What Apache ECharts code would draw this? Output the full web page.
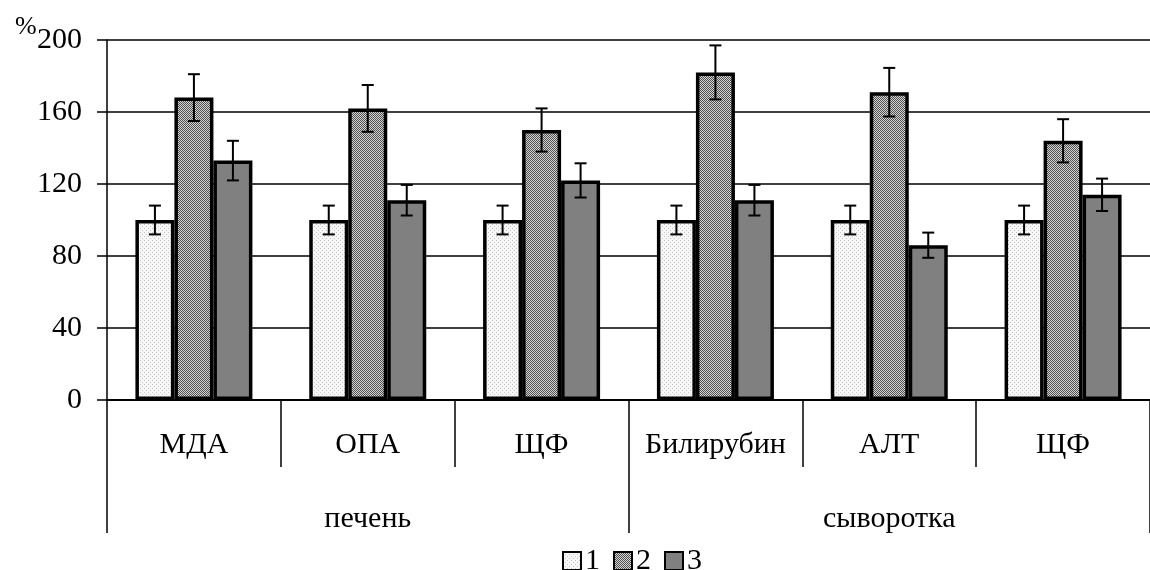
<!DOCTYPE html>
<html>
<head>
<meta charset="utf-8">
<script src="https://cdn.jsdelivr.net/npm/echarts@6/dist/echarts.min.js"></script>
<style>
html,body{margin:0;padding:0;background:#fff;}
#c{width:1150px;height:570px;}
</style>
</head>
<body>
<div id="c"></div>
<script>
// ---- data ----
var categories = ['МДА', 'ОПА', 'ЩФ', 'Билирубин', 'АЛТ', 'ЩФ'];
var groups = ['печень', 'сыворотка'];
var seriesNames = ['1', '2', '3'];
var values1 = [100, 100, 100, 100, 100, 100];
var errors1 = [8, 8, 8, 8, 8, 8];
var values2 = [168, 162, 150, 182, 171, 144];
var errors2 = [13, 13, 12, 15, 13.5, 12];
var values3 = [133, 111, 122, 111, 86, 114];
var errors3 = [11, 8.5, 9.5, 8.5, 7, 9];
var yTicks = [0, 40, 80, 120, 160, 200];

// ---- patterns ----
function makePattern(size, fn) {
  var c = document.createElement('canvas');
  c.width = size; c.height = size;
  var ctx = c.getContext('2d');
  for (var y = 0; y < size; y++) {
    for (var x = 0; x < size; x++) {
      ctx.fillStyle = fn(x, y);
      ctx.fillRect(x, y, 1, 1);
    }
  }
  return { image: c, repeat: 'repeat' };
}
var pat1 = makePattern(4, function (x, y) {
  return ((x + y) % 4 === 0 && y % 2 === 0) ? '#c4c4c4' : '#f6f6f6';
});
var pat2 = makePattern(4, function (x, y) {
  return ((x + y) % 2 === 0) ? '#505050' : '#d4d4d4';
});
var col3 = '#808080';

var FONT = "'Liberation Serif', 'Times New Roman', serif";
var FS = 30;
var BW = 39;

var valuesAll = [values1, values2, values3];
var errorsAll = [errors1, errors2, errors3];
var fills = [pat1, pat2, col3];

var series = [];
for (var i = 0; i < 3; i++) {
  series.push({
    name: seriesNames[i],
    type: 'bar',
    xAxisIndex: 0,
    barWidth: BW,
    barGap: '0%',
    data: valuesAll[i],
    itemStyle: { color: fills[i], borderColor: '#000', borderWidth: 3.5 },
    emphasis: { disabled: true },
    z: 2
  });
}
for (var j = 0; j < 3; j++) {
  (function (idx) {
    var d = valuesAll[idx].map(function (v, k) { return [k, v, errorsAll[idx][k]]; });
    series.push({
      type: 'custom',
      xAxisIndex: 0,
      data: d,
      z: 5,
      silent: true,
      renderItem: function (params, api) {
        var k = api.value(0), v = api.value(1), e = api.value(2);
        var off = (idx - 1) * BW;
        var top = api.coord([k, v + e]);
        var bot = api.coord([k, v - e]);
        var x = top[0] + off;
        var cap = 6;
        var st = { stroke: '#000', lineWidth: 2 };
        return {
          type: 'group',
          children: [
            { type: 'line', shape: { x1: x, y1: top[1], x2: x, y2: bot[1] }, style: st },
            { type: 'line', shape: { x1: x - cap, y1: top[1], x2: x + cap, y2: top[1] }, style: st },
            { type: 'line', shape: { x1: x - cap, y1: bot[1], x2: x + cap, y2: bot[1] }, style: st }
          ]
        };
      }
    });
  })(j);
}

var chart = echarts.init(document.getElementById('c'), null, { renderer: 'canvas' });
chart.setOption({
  animation: false,
  backgroundColor: '#fff',
  textStyle: { fontFamily: FONT },
  title: {
    text: '%', left: 10, top: 9,
    textStyle: { fontFamily: FONT, fontSize: 26, fontWeight: 'normal', color: '#000' }
  },
  grid: { left: 107, top: 40, right: -10, bottom: 170 },
  legend: {
    data: seriesNames,
    left: 557, top: 541,
    itemWidth: 18, itemHeight: 18, itemGap: 13,
    icon: 'rect',
    textStyle: { fontFamily: FONT, fontSize: FS, color: '#000', padding: [0, 0, 0, -1] }
  },
  xAxis: [
    {
      type: 'category',
      data: categories,
      position: 'bottom',
      axisLine: { show: true, lineStyle: { color: '#000', width: 2 } },
      axisTick: { show: true, interval: 0, length: 67, lineStyle: { color: '#000', width: 1.5 } },
      axisLabel: { interval: 0, margin: 30, fontFamily: FONT, fontSize: FS, color: '#000' },
      splitLine: { show: false }
    },
    {
      type: 'category',
      data: groups,
      position: 'bottom',
      axisLine: { show: false },
      axisTick: { show: true, interval: 0, length: 133, lineStyle: { color: '#000', width: 1.5 } },
      axisLabel: { interval: 0, margin: 104, fontFamily: FONT, fontSize: FS, color: '#000' },
      splitLine: { show: false }
    }
  ],
  yAxis: {
    type: 'value',
    min: yTicks[0], max: yTicks[yTicks.length - 1], interval: 40,
    axisLine: { show: true, lineStyle: { color: '#000', width: 1.5 } },
    axisTick: { show: true, length: 10, lineStyle: { color: '#000', width: 1.5 } },
    axisLabel: { margin: 25, fontFamily: FONT, fontSize: FS, color: '#000' },
    splitLine: { show: true, lineStyle: { color: '#000', width: 1.5 } }
  },
  series: series
});
</script>
</body>
</html>
